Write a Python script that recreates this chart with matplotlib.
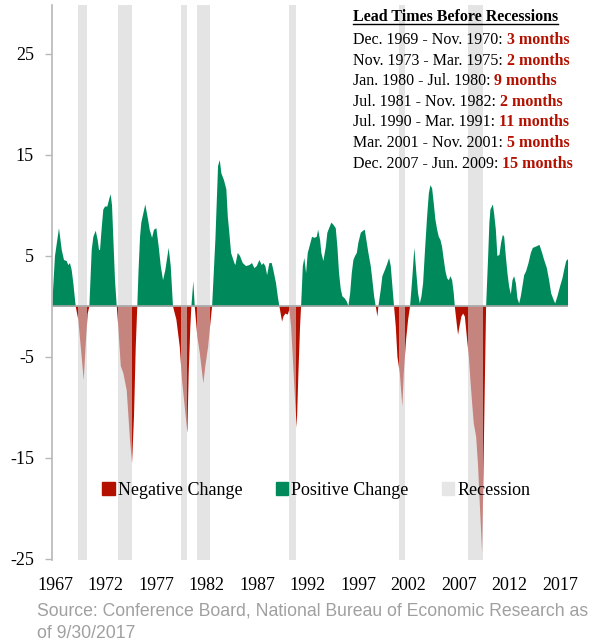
import numpy as np
import matplotlib
matplotlib.use("Agg")
import matplotlib.pyplot as plt
from matplotlib.patches import Patch
from matplotlib.lines import Line2D

# year-over-year change of the leading index (decimal years)
years = [
    1967.40, 1967.68, 1968.07, 1968.34, 1968.56, 1968.82, 1968.98, 1969.14, 1969.31, 1969.47,
    1969.70, 1969.95, 1970.28, 1970.48, 1970.70, 1970.87, 1971.03, 1971.26, 1971.42, 1971.65,
    1971.84, 1971.97, 1972.07, 1972.23, 1972.39, 1972.56, 1972.78, 1972.98, 1973.11, 1973.24,
    1973.36, 1973.53, 1973.70, 1973.85, 1974.09, 1974.34, 1974.67, 1974.99, 1975.19, 1975.38,
    1975.55, 1975.70, 1975.82, 1975.97, 1976.09, 1976.48, 1976.75, 1976.91, 1977.14, 1977.33,
    1977.56, 1977.79, 1977.99, 1978.21, 1978.43, 1978.76, 1978.96, 1979.18, 1979.51, 1979.84,
    1980.06, 1980.32, 1980.58, 1980.71, 1980.87, 1980.97, 1981.16, 1981.30, 1981.55, 1981.79,
    1981.94, 1982.14, 1982.33, 1982.60, 1982.79, 1982.99, 1983.31, 1983.57, 1983.74, 1983.89,
    1984.15, 1984.38, 1984.52, 1984.67, 1984.84, 1985.00, 1985.16, 1985.26, 1985.49, 1985.71,
    1985.98, 1986.30, 1986.62, 1986.88, 1987.11, 1987.34, 1987.60, 1987.83, 1987.99, 1988.18,
    1988.35, 1988.57, 1988.80, 1988.96, 1989.22, 1989.39, 1989.55, 1989.81, 1989.94, 1990.13,
    1990.36, 1990.52, 1990.69, 1990.85, 1991.07, 1991.24, 1991.40, 1991.56, 1991.66, 1991.83,
    1991.98, 1992.15, 1992.31, 1992.47, 1992.73, 1992.96, 1993.19, 1993.32, 1993.51, 1993.64,
    1993.83, 1994.07, 1994.22, 1994.39, 1994.61, 1994.81, 1995.04, 1995.20, 1995.36, 1995.53,
    1995.69, 1995.92, 1996.11, 1996.27, 1996.44, 1996.60, 1996.76, 1996.92, 1997.09, 1997.24,
    1997.48, 1997.70, 1997.87, 1998.02, 1998.22, 1998.45, 1998.61, 1998.78, 1998.94, 1999.10,
    1999.19, 1999.43, 1999.58, 1999.82, 2000.01, 2000.24, 2000.40, 2000.56, 2000.72, 2000.89,
    2001.05, 2001.28, 2001.53, 2001.67, 2001.89, 2002.09, 2002.28, 2002.48, 2002.70, 2002.87,
    2003.06, 2003.23, 2003.39, 2003.55, 2003.72, 2003.94, 2004.11, 2004.26, 2004.43, 2004.59,
    2004.75, 2004.92, 2005.08, 2005.24, 2005.40, 2005.57, 2005.73, 2005.89, 2006.06, 2006.21,
    2006.38, 2006.54, 2006.64, 2006.86, 2006.96, 2007.09, 2007.28, 2007.45, 2007.62, 2007.84,
    2008.01, 2008.16, 2008.33, 2008.49, 2008.72, 2008.91, 2009.04, 2009.18, 2009.30, 2009.40,
    2009.56, 2009.69, 2009.89, 2010.01, 2010.11, 2010.35, 2010.47, 2010.64, 2010.79, 2010.99,
    2011.15, 2011.32, 2011.45, 2011.61, 2011.77, 2011.93, 2012.10, 2012.26, 2012.42, 2012.59,
    2012.74, 2012.91, 2013.07, 2013.23, 2013.40, 2013.59, 2013.82, 2014.05, 2014.24, 2014.47,
    2014.69, 2014.89, 2015.12, 2015.35, 2015.61, 2015.83, 2016.03, 2016.25, 2016.42, 2016.64,
    2016.90, 2017.13, 2017.29, 2017.49, 2017.67,
]
change = [
    0.0, 5.0, 7.75, 5.6, 4.6, 4.5, 4.1, 4.3, 3.6, 2.3,
    0.0, -1.3, -5.0, -7.3, -3.3, -0.7, 0.0, 5.6, 6.9, 7.5,
    6.6, 5.6, 5.6, 7.75, 9.6, 9.9, 9.9, 10.7, 11.1, 10.0,
    6.9, 2.6, 0.0, -2.0, -5.9, -6.6, -8.3, -13.2, -15.5, -10.9,
    -4.0, 0.0, 3.5, 6.9, 8.3, 10.1, 8.6, 7.6, 6.8, 7.6,
    7.75, 5.9, 4.0, 2.6, 3.6, 5.8, 4.0, 0.0, -1.3, -4.0,
    -7.3, -9.9, -12.5, -6.6, -2.0, 0.0, 2.5, 0.0, -3.0, -4.6,
    -5.9, -7.6, -5.9, -4.0, -2.0, 0.0, 6.6, 13.9, 14.5, 13.2,
    12.5, 11.6, 8.9, 7.3, 5.3, 4.8, 4.3, 4.1, 5.3, 5.0,
    4.3, 4.0, 4.1, 4.3, 3.8, 4.0, 4.6, 4.1, 4.3, 4.0,
    3.1, 4.3, 4.3, 3.6, 2.3, 1.0, 0.0, -1.5, -1.0, -0.7,
    -0.8, -0.3, -2.0, -5.0, -9.2, -12.0, -6.6, -2.0, 0.0, 4.0,
    4.8, 3.3, 5.3, 5.9, 6.9, 6.8, 6.9, 7.6, 6.6, 5.3,
    4.5, 5.9, 7.3, 7.75, 8.3, 8.1, 7.75, 5.9, 3.3, 1.7,
    1.0, 0.8, 0.5, 0.05, 1.3, 3.3, 4.6, 5.0, 5.3, 6.3,
    7.3, 7.5, 7.6, 6.6, 5.3, 4.0, 2.6, 1.0, 0.0, -1.0,
    0.0, 1.7, 3.0, 3.6, 4.1, 4.8, 4.0, 2.0, 0.0, -2.0,
    -5.0, -6.6, -9.9, -6.6, -3.3, -1.3, 0.0, 2.6, 5.8, 3.6,
    1.3, 0.3, 1.0, 2.3, 5.3, 8.9, 11.2, 12.0, 11.7, 10.2,
    8.6, 7.6, 6.9, 6.6, 5.9, 4.6, 3.5, 2.8, 2.6, 3.0,
    2.6, 1.3, 0.0, -2.0, -2.8, -2.0, -1.0, -0.7, -1.0, -3.3,
    -5.0, -7.3, -9.6, -11.6, -12.9, -15.8, -18.8, -21.8, -24.4, -18.5,
    -8.0, 0.0, 5.0, 8.3, 9.6, 10.1, 9.2, 7.6, 5.0, 5.1,
    6.3, 7.1, 6.9, 5.0, 3.3, 2.0, 1.2, 2.6, 3.0, 2.3,
    0.8, 0.3, 1.0, 2.0, 3.1, 3.5, 4.3, 5.3, 5.8, 5.9,
    6.0, 6.1, 5.4, 4.6, 3.8, 2.6, 1.3, 0.7, 0.3, 1.0,
    2.0, 2.8, 3.6, 4.5, 4.7,
]

# NBER recessions (start, end) as decimal years
rec_start = [1969.92, 1973.83, 1980.00, 1981.50, 1990.50, 2001.17, 2007.92]
rec_end = [1970.83, 1975.17, 1980.50, 1982.83, 1991.17, 2001.83, 2009.42]

periods = ["Dec. 1969 - Nov. 1970: ", "Nov. 1973 - Mar. 1975: ", "Jan. 1980 - Jul. 1980: ",
           "Jul. 1981 - Nov. 1982: ", "Jul. 1990 - Mar. 1991: ", "Mar. 2001 - Nov. 2001: ",
           "Dec. 2007 - Jun. 2009: "]
lead_months = [3, 2, 9, 2, 11, 5, 15]

year_labels = [1967, 1972, 1977, 1982, 1987, 1992, 1997, 2002, 2007, 2012, 2017]
y_ticks = [-25, -15, -5, 5, 15, 25]

source_lines = ["Source: Conference Board, National Bureau of Economic Research as",
                "of 9/30/2017"]

GREEN = "#008a5b"
RED = "#b31000"
BAND = "#d3d3d3"
SERIF = "Liberation Serif"


def main():
    x = np.array(years)
    y = np.array(change)

    fig = plt.figure(figsize=(6.01, 6.44), dpi=100)
    ax = fig.add_axes([52 / 601, 84 / 644, 516 / 601, 555 / 644])

    ax.fill_between(x, 0, y, where=y >= 0, interpolate=True, color=GREEN, lw=0, zorder=2)
    ax.fill_between(x, 0, y, where=y <= 0, interpolate=True, color=RED, lw=0, zorder=2)
    # recession bands lie over the chart, lightening the red beneath
    for s, e in zip(rec_start, rec_end):
        ax.axvspan(s, e, color=BAND, alpha=0.6, lw=0, zorder=3)
    ax.plot([x[0], x[-1]], [0, 0], color="#a6a6a6", lw=1.2, zorder=4)

    ax.set_xlim(1967.39, 2017.67)
    ax.set_ylim(-25.1, 29.85)

    for side in ["top", "right", "bottom"]:
        ax.spines[side].set_visible(False)
    ax.spines["left"].set_color("#b8b8b8")
    ax.spines["left"].set_linewidth(1.2)
    ax.spines["left"].set_zorder(5)

    ax.set_yticks(y_ticks)
    ax.set_yticklabels([str(v) for v in y_ticks], fontfamily=SERIF, fontsize=13)
    ax.tick_params(axis="y", length=5, width=1, color="#b8b8b8", pad=8)

    # year labels sit evenly along the bottom
    pos = np.linspace(1967.68, 2016.90, len(year_labels))
    ax.set_xticks(pos)
    ax.set_xticklabels([str(v) for v in year_labels], fontfamily=SERIF, fontsize=13)
    ax.tick_params(axis="x", length=0, pad=12)

    # legend
    handles = [Patch(color=RED), Patch(color=GREEN), Patch(color="#e6e6e6")]
    leg = ax.legend(handles, ["Negative Change", "Positive Change", "Recession"],
                    loc="center", bbox_to_anchor=(0.512, 0.126), ncol=3, frameon=False,
                    prop={"family": SERIF, "size": 13}, handlelength=0.7, handleheight=0.7,
                    handletextpad=0.15, columnspacing=1.85)
    leg.set_zorder(6)

    # lead times box
    x0 = 353 / 601
    title = fig.text(x0, 1 - 21 / 644, "Lead Times Before Recessions", fontfamily=SERIF,
                     fontsize=11.5, fontweight="bold", va="baseline", ha="left", zorder=10)
    fig.canvas.draw()
    bb = title.get_window_extent()
    fig.add_artist(Line2D([bb.x0 / 601, bb.x1 / 601], [1 - 23.5 / 644, 1 - 23.5 / 644],
                          color="black", lw=1, zorder=10))
    for i, (p, m) in enumerate(zip(periods, lead_months)):
        yb = 1 - (44 + 20.6 * i) / 644
        t = fig.text(x0, yb, p, fontfamily=SERIF, fontsize=11.5, va="baseline", ha="left",
                     zorder=10)
        fig.canvas.draw()
        tb = t.get_window_extent()
        fig.text(tb.x1 / 601, yb, f"{m} months", fontfamily=SERIF, fontsize=11.5,
                 fontweight="bold", color=RED, va="baseline", ha="left", zorder=10)

    for i, line in enumerate(source_lines):
        fig.text(37 / 601, 1 - (611 + 23 * i) / 644, line, fontfamily="Liberation Sans",
                 fontsize=12.7, color="#a0a0a0", va="center", ha="left")

    fig.savefig("out.png", dpi=100)


if __name__ == "__main__":
    main()
